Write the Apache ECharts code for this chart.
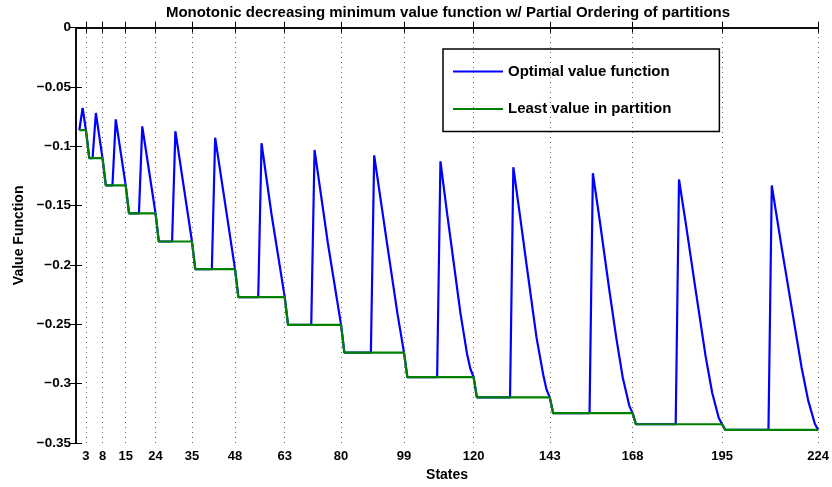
<!DOCTYPE html>
<html>
<head>
<meta charset="utf-8">
<script src="https://cdn.jsdelivr.net/npm/echarts@6/dist/echarts.min.js"></script>
<style>
html,body{margin:0;padding:0;background:#fff;}
#chart{width:832px;height:487px;}
</style>
</head>
<body>
<div id="chart"></div>
<script>
// Partition boundary states (tick labels)
const stateTicks = [3, 8, 15, 24, 35, 48, 63, 80, 99, 120, 143, 168, 195, 224];
// Least value in each partition
const partitionLevels = [-0.0864, -0.1099, -0.1329, -0.1564, -0.1802, -0.2035, -0.227, -0.2505, -0.2738, -0.2945, -0.3116, -0.3248, -0.3342, -0.339];
// Peak of optimal value function in each partition
const peakStates = [2, 6, 12, 20, 30, 42, 56, 72, 90, 110, 132, 156, 182, 210];
const peakValues = [-0.0675, -0.0719, -0.0772, -0.0831, -0.0872, -0.0927, -0.0974, -0.103, -0.1076, -0.1126, -0.1176, -0.1226, -0.1279, -0.1329];
// Intermediate points on the decaying part after each peak [state, value]
const descentPoints = [
  [], [], [], [], [], [],
  [[59, -0.157]],
  [[76, -0.1812]],
  [[94, -0.1841], [97, -0.2406]],
  [[112, -0.1563], [114, -0.1981], [116, -0.2399], [118, -0.2745], [119, -0.2872]],
  [[134, -0.1583], [136, -0.2000], [139, -0.2612], [141, -0.2922], [142, -0.3048]],
  [[158, -0.1610], [161, -0.2217], [163, -0.2601], [165, -0.2945], [167, -0.3187]],
  [[184, -0.1640], [187, -0.2207], [190, -0.2764], [192, -0.3074], [194, -0.3290]],
  [[213, -0.1855], [216, -0.2359], [219, -0.2864], [221, -0.3143], [223, -0.3338]]
];
const yTickLabels = ['−0.35', '−0.3', '−0.25', '−0.2', '−0.15', '−0.1', '−0.05', '0'];

const optimalData = [];
const leastData = [];
for (let i = 0; i < stateTicks.length; i++) {
  const start = i === 0 ? 1 : stateTicks[i - 1] + 1;
  const end = stateTicks[i];
  const L = partitionLevels[i];
  optimalData.push([start, L]);
  optimalData.push([peakStates[i] - 1, L]);
  optimalData.push([peakStates[i], peakValues[i]]);
  descentPoints[i].forEach(p => optimalData.push(p));
  optimalData.push([end, L]);
  leastData.push([start, L]);
  leastData.push([end, L]);
}

const FONT = '"Liberation Sans", Arial, Helvetica, sans-serif';
const chart = echarts.init(document.getElementById('chart'), null, {renderer: 'canvas'});
const axisLineStyle = {color: '#000', width: 1.5};
chart.setOption({
  animation: false,
  backgroundColor: '#fff',
  textStyle: {fontFamily: FONT},
  title: {
    text: 'Monotonic decreasing minimum value function w/ Partial Ordering of partitions',
    left: 448,
    textAlign: 'center',
    top: 5,
    padding: 0,
    textStyle: {fontFamily: FONT, fontSize: 15, fontWeight: 'bold', color: '#000'}
  },
  grid: {left: 76, right: 12, top: 27.7, bottom: 38, containLabel: false},
  legend: {
    data: ['Optimal value function', 'Least value in partition'],
    orient: 'vertical',
    left: 443,
    top: 49,
    icon: 'rect',
    itemWidth: 50,
    itemHeight: 2,
    itemGap: 22.6,
    padding: [14.9, 48, 14.9, 10],
    borderColor: '#000',
    borderWidth: 1.5,
    backgroundColor: '#fff',
    textStyle: {fontFamily: FONT, fontSize: 15, lineHeight: 15, fontWeight: 'bold', color: '#000'}
  },
  xAxis: [{
    type: 'value', min: 0, max: 224,
    name: 'States', nameLocation: 'middle', nameGap: 25,
    nameTextStyle: {fontFamily: FONT, fontSize: 14, fontWeight: 'bold', color: '#000'},
    axisLine: {show: true, lineStyle: axisLineStyle},
    axisTick: {show: true, inside: true, length: 6, customValues: stateTicks, lineStyle: {color: '#000', width: 1}},
    axisLabel: {show: true, customValues: stateTicks, margin: 7, fontFamily: FONT, fontSize: 13, fontWeight: 'bold', color: '#000'},
    splitLine: {show: false}
  }, {
    type: 'value', min: 0, max: 224, position: 'top',
    axisLine: {show: true, lineStyle: axisLineStyle},
    axisTick: {show: true, inside: true, length: 6, customValues: stateTicks, lineStyle: {color: '#000', width: 1}},
    axisLabel: {show: false},
    splitLine: {show: false}
  }],
  yAxis: [{
    type: 'value', min: -0.35, max: 0, interval: 0.05,
    name: 'Value Function', nameLocation: 'middle', nameGap: 50,
    nameTextStyle: {fontFamily: FONT, fontSize: 14, fontWeight: 'bold', color: '#000'},
    axisLine: {show: true, lineStyle: axisLineStyle},
    axisTick: {show: true, inside: true, length: 6, lineStyle: {color: '#000', width: 1}},
    axisLabel: {
      margin: 5, fontFamily: FONT, fontSize: 13.5, fontWeight: 'bold', color: '#000',
      formatter: function (v) {
        const idx = Math.round((v + 0.35) / 0.05);
        return yTickLabels[idx];
      }
    },
    splitLine: {show: false}
  }, {
    type: 'value', min: -0.35, max: 0, interval: 0.05, position: 'right',
    axisLine: {show: true, lineStyle: axisLineStyle},
    axisTick: {show: true, inside: true, length: 6, lineStyle: {color: '#000', width: 1}},
    axisLabel: {show: false},
    splitLine: {show: false}
  }],
  series: [{
    name: 'grid',
    type: 'line',
    data: [],
    z: 1,
    silent: true,
    markLine: {
      silent: true,
      symbol: ['none', 'none'],
      label: {show: false},
      lineStyle: {type: [1, 4], color: '#666', width: 1},
      data: stateTicks.map(v => ({xAxis: v}))
    }
  }, {
    name: 'Optimal value function',
    type: 'line',
    data: optimalData,
    symbol: 'none',
    z: 3,
    lineStyle: {color: '#0000ff', width: 2.2},
    itemStyle: {color: '#0000ff'}
  }, {
    name: 'Least value in partition',
    type: 'line',
    data: leastData,
    symbol: 'none',
    z: 4,
    lineStyle: {color: '#008000', width: 2.2},
    itemStyle: {color: '#008000'}
  }]
});
</script>
</body>
</html>
